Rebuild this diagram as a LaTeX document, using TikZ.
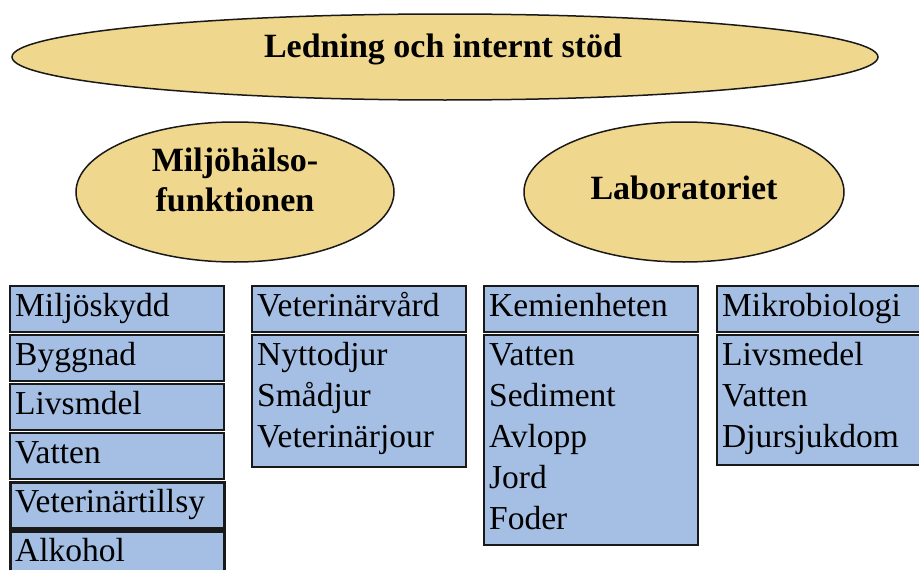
\documentclass[tikz,border=0pt]{standalone}
\usepackage{fontspec}
\setmainfont{Liberation Serif}
\usetikzlibrary{shapes.geometric}
\definecolor{ellfill}{RGB}{240,215,142}
\definecolor{boxfill}{RGB}{164,191,227}
\definecolor{edge}{RGB}{25,25,25}
\begin{document}
\begin{tikzpicture}[x=1pt,y=-1pt,
  ell/.style={ellipse, draw=edge, line width=1.5pt, fill=ellfill, inner sep=0pt},
  box/.style={rectangle, draw=edge, line width=2pt, fill=boxfill, anchor=north west, inner sep=0pt, minimum width=214pt},
  hbox/.style={box, minimum height=46pt},
  lbl/.style={anchor=base west, inner sep=0pt, font=\fontsize{33.5}{41}\selectfont},
  ttl/.style={anchor=base, inner sep=0pt, font=\bfseries\fontsize{34}{41}\selectfont}]
\useasboundingbox (0,0) rectangle (919,570);
% ellipses
\node[ell, minimum width=866pt, minimum height=86pt] (top) at (445,57) {};
\node[ttl] (toptxt) at (443,57) {Ledning och internt stöd};
\node[ell, minimum width=318pt, minimum height=140pt] (mh) at (235,192) {};
\node[ttl] (mh1) at (235,171) {Miljöhälso-};
\node[ttl] (mh2) at (235,211) {funktionen};
\node[ell, minimum width=320pt, minimum height=140pt] (lab) at (684,192) {};
\node[ttl] (labtxt) at (684,199) {Laboratoriet};
% column 1
\node[hbox] (c1a) at (9,285) {};
\node[lbl] (t1a) at (15,316) {Miljöskydd};
\node[hbox] (c1b) at (9,334) {};
\node[lbl] (t1b) at (15,365) {Byggnad};
\node[hbox] (c1c) at (9,383) {};
\node[lbl] (t1c) at (15,414) {Livsmdel};
\node[hbox] (c1d) at (9,432) {};
\node[lbl] (t1d) at (15,463) {Vatten};
\node[hbox, line width=2.5pt] (c1e) at (9,481) {};
\node[lbl] (t1e) at (15,512) {Veterinärtillsy};
\node[box, line width=2.5pt, minimum height=50pt] (c1f) at (9,530) {};
\node[lbl] (t1f) at (15,561) {Alkohol};
% column 2
\node[hbox] (c2h) at (251,285) {};
\node[lbl] (t2h) at (257,316) {Veterinärvård};
\node[box, minimum height=132pt] (c2b) at (251,334) {};
\node[lbl] (t2a) at (257,365) {Nyttodjur};
\node[lbl] (t2b) at (257,406) {Smådjur};
\node[lbl] (t2c) at (257,447) {Veterinärjour};
% column 3
\node[hbox] (c3h) at (483,285) {};
\node[lbl] (t3h) at (489,316) {Kemienheten};
\node[box, minimum height=210pt] (c3b) at (483,334) {};
\node[lbl] (t3a) at (489,365) {Vatten};
\node[lbl] (t3b) at (489,406) {Sediment};
\node[lbl] (t3c) at (489,447) {Avlopp};
\node[lbl] (t3d) at (489,488) {Jord};
\node[lbl] (t3e) at (489,529) {Foder};
% column 4
\node[hbox] (c4h) at (716,285) {};
\node[lbl] (t4h) at (722,316) {Mikrobiologi};
\node[box, minimum height=130pt] (c4b) at (716,334) {};
\node[lbl] (t4a) at (722,365) {Livsmedel};
\node[lbl] (t4b) at (722,406) {Vatten};
\node[lbl] (t4c) at (722,447) {Djursjukdom};
\end{tikzpicture}
\end{document}
